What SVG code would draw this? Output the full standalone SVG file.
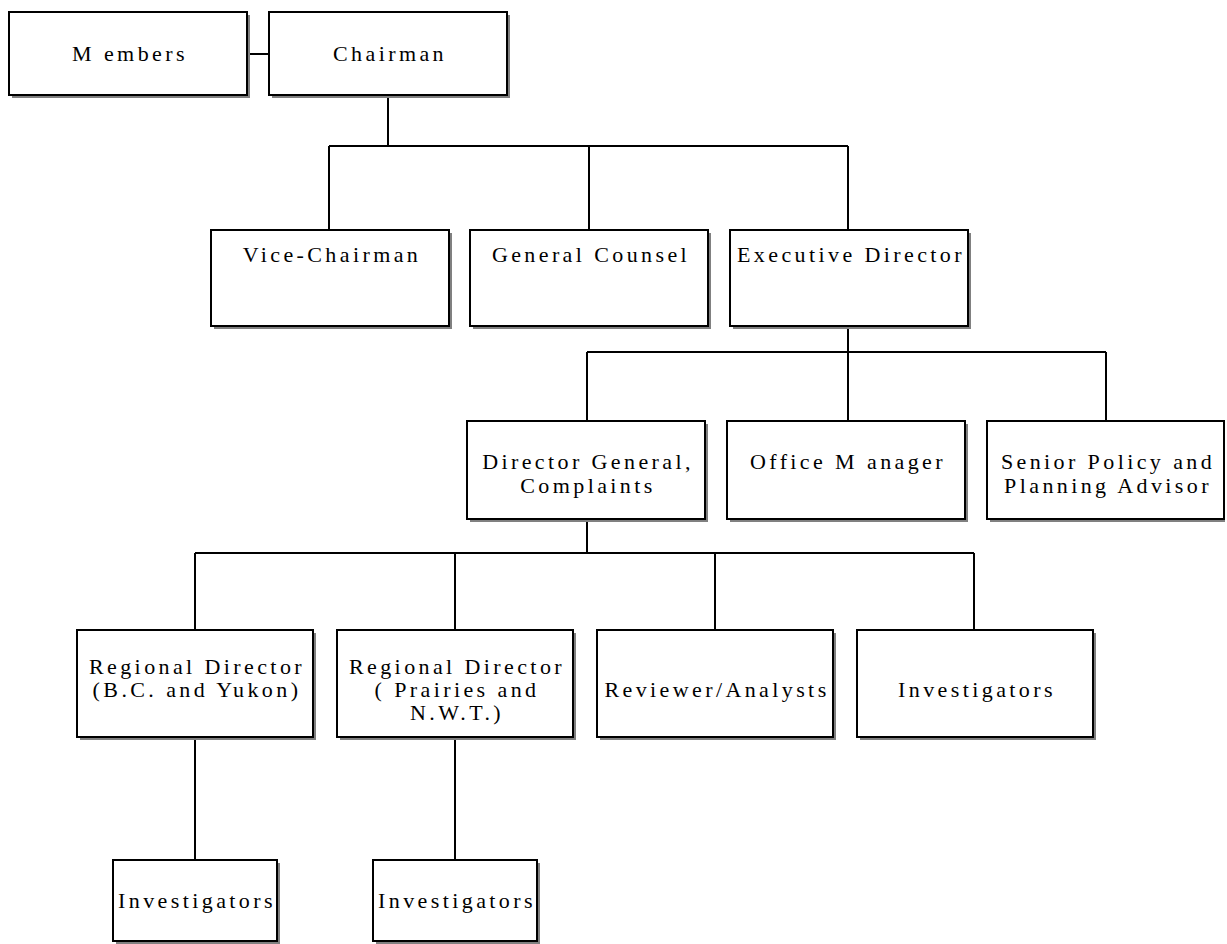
<svg xmlns="http://www.w3.org/2000/svg" width="1227" height="944" viewBox="0 0 1227 944">
<style>
.sh{fill:#808080;stroke:none}
.bx{fill:#fff;stroke:#000;stroke-width:2}
.t{font-family:'Liberation Serif','Times New Roman',serif;font-size:22px;letter-spacing:3.4px;text-anchor:middle;fill:#000}
.c{fill:none;stroke:#000;stroke-width:2}
</style>
<rect width="1227" height="944" fill="#fff"/>
<g id="connectors" class="c">
<path d="M247 54H269"/>
<path d="M388 95V146M329 146H848M329 146V230M589 146V230M848 146V230"/>
<path d="M848 326V352M587 352H1106M587 352V421M848 352V421M1106 352V421"/>
<path d="M587 519V553M195 553H974M195 553V630M455 553V630M715 553V630M974 553V630"/>
<path d="M195 737V860M455 737V860"/>
</g>
<g id="members"><rect class="sh" x="12" y="15" width="238" height="83"/><rect class="bx" x="9" y="12" width="238" height="83"/><text class="t" x="130" y="61">M embers</text></g>
<g id="chairman"><rect class="sh" x="272" y="15" width="238" height="83"/><rect class="bx" x="269" y="12" width="238" height="83"/><text class="t" x="390" y="61">Chairman</text></g>
<g id="vice-chairman"><rect class="sh" x="214" y="233" width="238" height="96"/><rect class="bx" x="211" y="230" width="238" height="96"/><text class="t" x="332" y="262">Vice-Chairman</text></g>
<g id="general-counsel"><rect class="sh" x="473" y="233" width="238" height="96"/><rect class="bx" x="470" y="230" width="238" height="96"/><text class="t" x="591" y="262">General Counsel</text></g>
<g id="executive-director"><rect class="sh" x="733" y="233" width="238" height="96"/><rect class="bx" x="730" y="230" width="238" height="96"/><text class="t" x="851" y="262">Executive Director</text></g>
<g id="director-general"><rect class="sh" x="470" y="424" width="238" height="98"/><rect class="bx" x="467" y="421" width="238" height="98"/><text class="t" x="588" y="469">Director General,</text><text class="t" x="588" y="493">Complaints</text></g>
<g id="office-manager"><rect class="sh" x="730" y="424" width="238" height="98"/><rect class="bx" x="727" y="421" width="238" height="98"/><text class="t" x="848" y="469">Office M anager</text></g>
<g id="senior-policy"><rect class="sh" x="990" y="424" width="235" height="98"/><rect class="bx" x="987" y="421" width="237" height="98"/><text class="t" x="1108" y="469">Senior Policy and</text><text class="t" x="1108" y="493">Planning Advisor</text></g>
<g id="rd-bc"><rect class="sh" x="80" y="633" width="236" height="107"/><rect class="bx" x="77" y="630" width="236" height="107"/><text class="t" x="197" y="674">Regional Director</text><text class="t" x="197" y="697">(B.C. and Yukon)</text></g>
<g id="rd-prairies"><rect class="sh" x="340" y="633" width="236" height="107"/><rect class="bx" x="337" y="630" width="236" height="107"/><text class="t" x="457" y="674">Regional Director</text><text class="t" x="457" y="697">( Prairies and</text><text class="t" x="457" y="720">N.W.T.)</text></g>
<g id="reviewers"><rect class="sh" x="600" y="633" width="236" height="107"/><rect class="bx" x="597" y="630" width="236" height="107"/><text class="t" x="717" y="697">Reviewer/Analysts</text></g>
<g id="investigators-1"><rect class="sh" x="860" y="633" width="236" height="107"/><rect class="bx" x="857" y="630" width="236" height="107"/><text class="t" x="977" y="697">Investigators</text></g>
<g id="investigators-2"><rect class="sh" x="116" y="863" width="164" height="81"/><rect class="bx" x="113" y="860" width="164" height="81"/><text class="t" x="197" y="908">Investigators</text></g>
<g id="investigators-3"><rect class="sh" x="376" y="863" width="164" height="81"/><rect class="bx" x="373" y="860" width="164" height="81"/><text class="t" x="457" y="908">Investigators</text></g>
</svg>
